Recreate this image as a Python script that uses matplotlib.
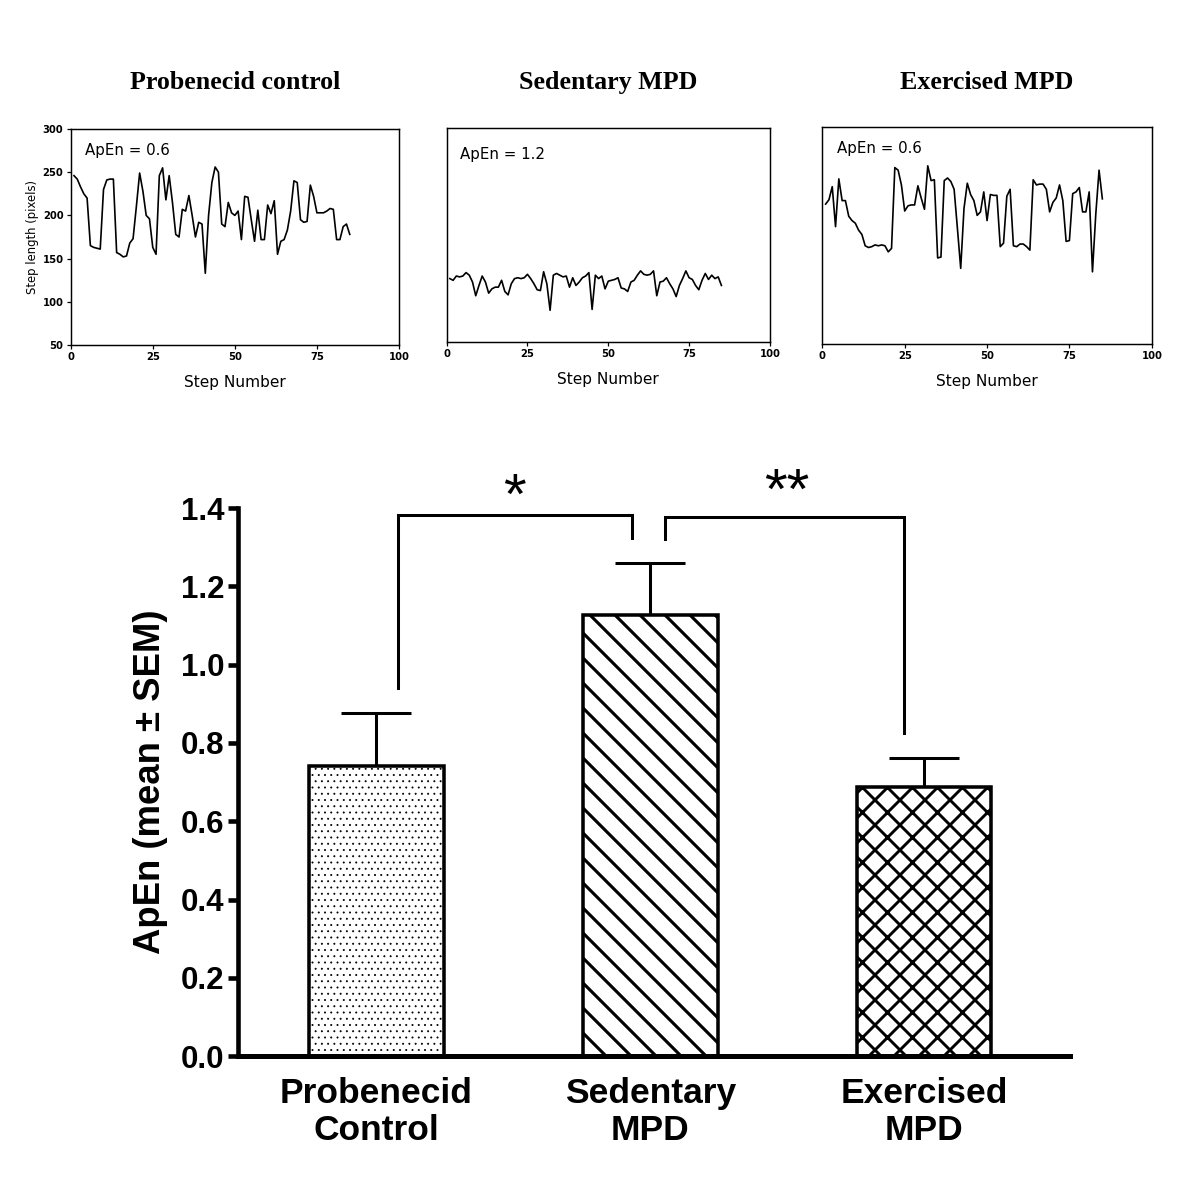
import matplotlib.pyplot as plt
import numpy as np

# step length traces (pixels), steps 1..85
probenecid_steps = [246, 242, 233, 225, 220, 165, 163, 162, 161, 230,
                    241, 242, 242, 157, 155, 152, 153, 168, 173, 210,
                    249, 228, 200, 196, 163, 155, 246, 255, 218, 246,
                    215, 178, 175, 207, 205, 223, 200, 175, 192, 190,
                    133, 200, 238, 256, 250, 190, 187, 215, 203, 200,
                    205, 172, 222, 221, 195, 170, 206, 172, 172, 212,
                    202, 217, 155, 170, 172, 183, 205, 240, 238, 195,
                    192, 193, 235, 222, 203, 203, 203, 205, 208, 207,
                    172, 172, 187, 190, 178]
sedentary_steps = [124, 122, 127, 126, 127, 131, 128, 120, 104, 116,
                   127, 120, 107, 112, 114, 114, 122, 109, 105, 118,
                   124, 125, 124, 125, 129, 124, 118, 111, 110, 132,
                   118, 87, 128, 130, 128, 126, 127, 114, 125, 116,
                   120, 125, 127, 131, 88, 128, 124, 127, 112, 121,
                   122, 123, 125, 113, 112, 109, 120, 122, 128, 133,
                   129, 128, 129, 133, 104, 120, 121, 125, 118, 112,
                   103, 116, 124, 133, 125, 123, 116, 111, 122, 130,
                   123, 128, 124, 126, 116]
exercised_steps = [211, 216, 231, 185, 240, 215, 215, 197, 192, 189,
                   181, 176, 163, 161, 162, 164, 163, 164, 163, 156,
                   160, 253, 250, 233, 203, 209, 210, 210, 232, 218,
                   205, 255, 238, 239, 149, 150, 238, 241, 237, 228,
                   183, 137, 206, 235, 222, 215, 198, 202, 225, 192,
                   222, 221, 221, 162, 166, 220, 228, 163, 162, 165,
                   165, 162, 158, 239, 233, 234, 234, 228, 202, 213,
                   218, 233, 215, 168, 169, 223, 225, 230, 202, 202,
                   225, 133, 199, 250, 217]

panel_titles = ["Probenecid control", "Sedentary MPD", "Exercised MPD"]
panel_apen = ["ApEn = 0.6", "ApEn = 1.2", "ApEn = 0.6"]

groups = ["Probenecid\nControl", "Sedentary\nMPD", "Exercised\nMPD"]
apen_mean = [0.74, 1.127, 0.687]
apen_sem = [0.136, 0.133, 0.074]


def plot_figure():
    fig = plt.figure(figsize=(8, 7.8667), dpi=150)

    traces = [probenecid_steps, sedentary_steps, exercised_steps]
    boxes = [(0.0589, 0.7076, 0.2736, 0.1831),
             (0.3722, 0.7102, 0.2694, 0.1814),
             (0.6853, 0.7085, 0.2745, 0.1841)]
    text_pos = [(0.044, 0.90), (0.041, 0.874), (0.044, 0.90)]

    for i, (tr, box) in enumerate(zip(traces, boxes)):
        ax = fig.add_axes(box)
        steps = np.arange(1, len(tr) + 1)
        ax.plot(steps, tr, color='black', lw=0.8)
        ax.set_xlim(0, 100)
        ax.set_ylim(50, 300)
        ax.set_xticks([0, 25, 50, 75, 100])
        for sp in ax.spines.values():
            sp.set_linewidth(0.7)
        ax.tick_params(direction='out', length=2, width=0.6, labelsize=4.8, pad=1.5)
        if i == 0:
            ax.set_yticks([50, 100, 150, 200, 250, 300])
            ax.set_ylabel("Step length (pixels)", fontsize=5.6, labelpad=1.5)
        else:
            ax.set_yticks([])
        for lbl in ax.get_xticklabels() + ax.get_yticklabels():
            lbl.set_fontweight('bold')
        ax.set_xlabel("Step Number", fontsize=7.4, labelpad=6)
        ax.text(text_pos[i][0], text_pos[i][1], panel_apen[i], transform=ax.transAxes,
                fontsize=7.2, ha='left', va='center')
        fig.text(box[0] + box[2] / 2, 0.9297, panel_titles[i], fontsize=12.5,
                 fontweight='bold', family='Liberation Serif', ha='center', va='center')

    # bottom bar chart
    ax = fig.add_axes([0.198, 0.105, 0.6933, 0.4644])
    xs = np.arange(len(groups))
    hatches = ['....', '\\\\', 'xx']
    hatch_lw = [0.35, 1.5, 1.4]
    ax.errorbar(xs, apen_mean, yerr=[np.zeros(3), apen_sem], fmt='none',
                ecolor='black', elinewidth=1.45, capsize=16.8, capthick=1.45, zorder=1)
    bars = ax.bar(xs, apen_mean, width=0.49, color='white', edgecolor='black',
                  linewidth=1.7, zorder=2)
    for b, h, hl in zip(bars, hatches, hatch_lw):
        b.set_hatch(h)
        if hasattr(b, 'set_hatch_linewidth'):
            b.set_hatch_linewidth(hl)

    ax.set_xlim(-0.507, 2.53)
    ax.set_ylim(0, 1.4)
    ax.spines['top'].set_visible(False)
    ax.spines['right'].set_visible(False)
    ax.spines['left'].set_linewidth(2.2)
    ax.spines['bottom'].set_linewidth(2.4)
    ax.set_yticks(np.arange(0, 1.41, 0.2))
    ax.set_yticklabels(["%.1f" % v for v in np.arange(0, 1.41, 0.2)],
                       fontsize=15, fontweight='bold', family='Liberation Sans')
    ax.tick_params(axis='y', direction='out', length=4.8, width=2.2, pad=1.5)
    ax.set_xticks(xs)
    ax.set_xticklabels(groups, fontsize=17, fontweight='bold', family='Liberation Sans',
                       linespacing=1.15)
    ax.tick_params(axis='x', length=0, pad=10)
    ax.set_ylabel(u"ApEn (mean \u00b1 SEM)", fontsize=17.5, fontweight='bold',
                  family='Liberation Sans', labelpad=6)

    # significance brackets
    ax.plot([0.077, 0.077, 0.934, 0.934], [0.94, 1.382, 1.382, 1.323],
            color='black', lw=1.45, clip_on=False, solid_joinstyle='miter')
    ax.plot([1.055, 1.055, 1.927, 1.927], [1.320, 1.377, 1.377, 0.825],
            color='black', lw=1.45, clip_on=False, solid_joinstyle='miter')
    ax.text(0.504, 1.425, "*", fontsize=28, ha='center', va='center',
            family='Liberation Sans')
    ax.text(1.496, 1.437, "**", fontsize=28, ha='center', va='center',
            family='Liberation Sans')

    plt.savefig('out.png', dpi=150)


if __name__ == "__main__":
    plot_figure()
